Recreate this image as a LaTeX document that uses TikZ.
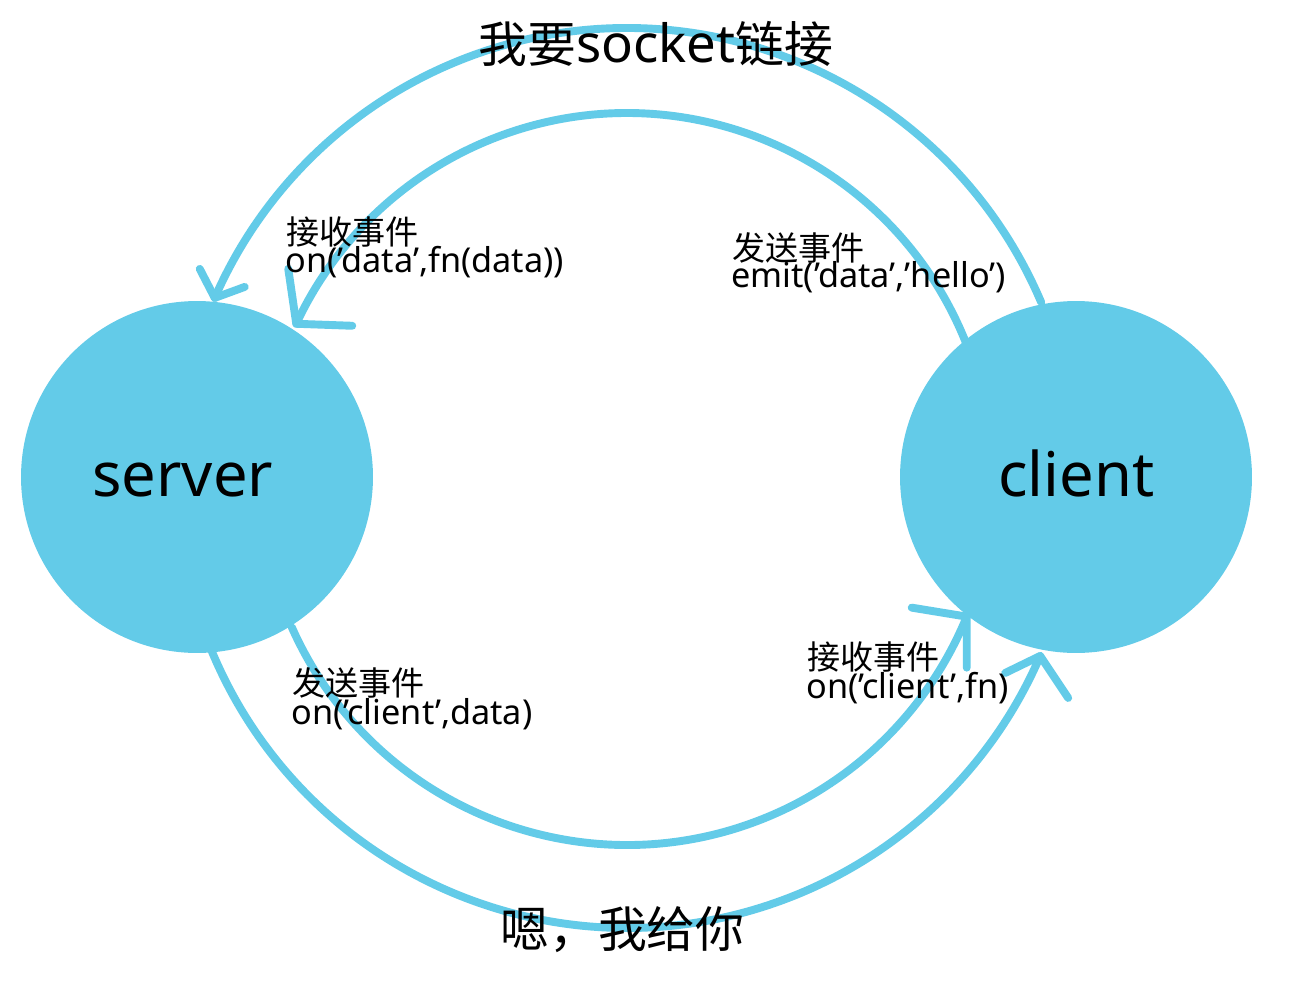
\documentclass[tikz,border=0pt]{standalone}
\usepackage{fontspec}
\setmainfont{Noto Sans CJK SC}
\newfontfamily\lat{Noto Sans}
\definecolor{sky}{RGB}{99,203,232}
\begin{document}
\begin{tikzpicture}[x=0.02cm,y=-0.02cm,
  arcline/.style={draw=sky,line width=4.5pt,line cap=round,line join=round},
  ball/.style={circle,fill=sky,minimum size=7.04cm,inner sep=0pt},
  lbl/.style={anchor=base west,inner sep=0pt,font=\fontsize{18.8}{20}\selectfont},
  lbllat/.style={anchor=base west,inner sep=0pt,font=\lat\fontsize{19.5}{20}\selectfont},
  bigtext/.style={anchor=base west,inner sep=0pt,font=\fontsize{27.8}{30}\selectfont},
  balltext/.style={anchor=base west,inner sep=0pt,font=\lat\fontsize{35}{40}\selectfont}]
\useasboundingbox (0,0) rectangle (1312,984);
\fill[white] (0,0) rectangle (1312,984);
\coordinate (C) at (627,478);
% arcs
\draw[arcline] (C) ++(23:9cm) arc[start angle=23,end angle=156.4,radius=9cm] coordinate (t1);
\draw[arcline] (t1) -- ++(-15,-29) (t1) -- ++(30,-11);
\draw[arcline] (C) ++(21.5:7.3cm) arc[start angle=21.5,end angle=155,radius=7.3cm] coordinate (t2);
\draw[arcline] (t2) -- ++(-8,-55) (t2) -- ++(56,2);
\draw[arcline] (C) ++(202.5:9cm) arc[start angle=202.5,end angle=336.7,radius=9cm] coordinate (t3);
\draw[arcline] (t3) -- ++(-35,17) (t3) -- ++(28,42);
\draw[arcline] (C) ++(204:7.34cm) arc[start angle=204,end angle=337.8,radius=7.34cm] coordinate (t4);
\draw[arcline] (t4) -- ++(-55,-9) (t4) -- ++(0,51);
% circles
\node[ball] (server) at (197,477) {};
\node[ball] (client) at (1076,477) {};
\node[balltext] (servertext) at (92,496) {server};
\node[balltext] (clienttext) at (998,496) {client};
% labels
\node[bigtext] (top) at (478,62) {我要{\lat\fontsize{30}{32}\selectfont socket}链接};
\node[bigtext] (bottom) at (500,947) {嗯，我给你};
\node[lbl] (l1a) at (286,244) {接收事件};
\node[lbllat] (l1b) at (285,272) {on(’data’,fn(data))};
\node[lbl] (l2a) at (732,260) {发送事件};
\node[lbllat] (l2b) at (731,287) {emit(’data’,’hello’)};
\node[lbl] (l3a) at (292,695) {发送事件};
\node[lbllat] (l3b) at (291,724) {on(’client’,data)};
\node[lbl] (l4a) at (807,669) {接收事件};
\node[lbllat] (l4b) at (806,698) {on(’client’,fn)};
\end{tikzpicture}
\end{document}
